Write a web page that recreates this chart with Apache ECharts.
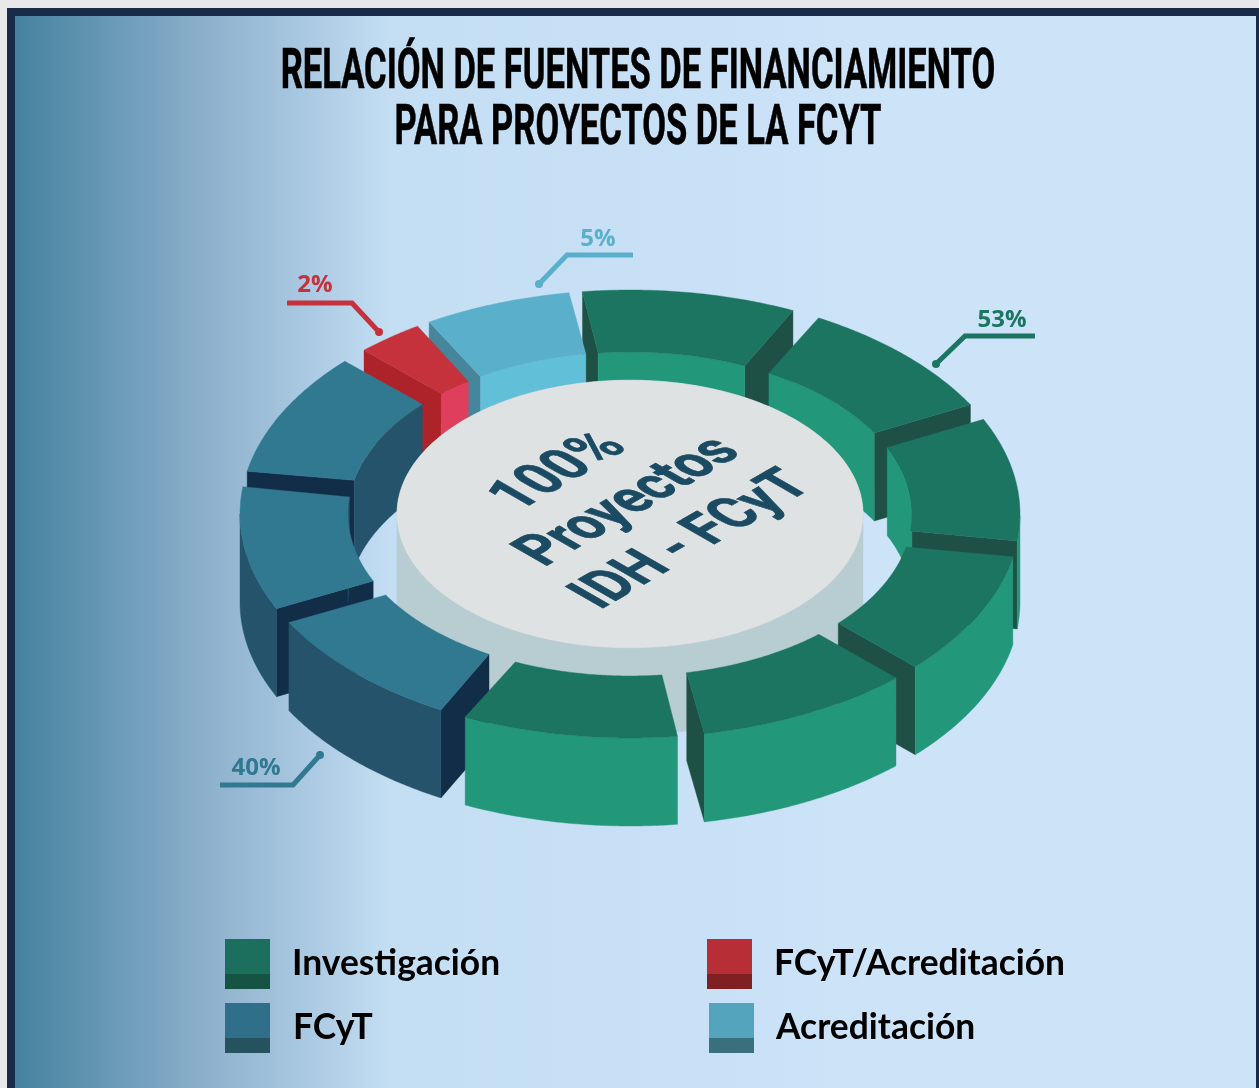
<!DOCTYPE html>
<html>
<head>
<meta charset="utf-8">
<style>html,body{margin:0;padding:0;background:#e8e8e8}#c{width:1259px;height:1088px}</style>
<script src="https://cdn.jsdelivr.net/npm/echarts@6/dist/echarts.min.js"></script>
</head>
<body>
<div id="c"></div>
<script>
// ---- data ----
const categories = ['Investigación', 'FCyT', 'FCyT/Acreditación', 'Acreditación'];
const shares = [53, 40, 2, 5];
// drawn angular extent of each block, degrees clockwise from the top:
// [outer edge start, outer edge end, inner edge start, inner edge end]
const investigacionBlocks = [
  [-7, 24.7, -6.5, 24], [28.9, 60.8, 29.5, 60], [65, 96.9, 65.8, 96],
  [101, 133, 101.8, 132.4], [137, 169, 138, 168.4], [173, 205, 173.5, 204]
];
const fcytBlocks = [[209, 241, 210, 240], [245, 277, 245.6, 276], [281, 313, 282, 312.6]];
const fcytAcreditacionBlocks = [[317, 327, 318, 325]];
const acreditacionBlocks = [[329, 351, 328, 351]];
const titleLines = ['RELACIÓN DE FUENTES DE FINANCIAMIENTO', 'PARA PROYECTOS DE LA FCYT'];
const hubLines = ['100%', 'Proyectos', 'IDH - FCyT'];

// ---- layout / style ----
const CX = 630, CY = 514, SQUASH = 224 / 390;
const R_OUT = 390, R_IN = 282, R_HUB = 233, H_RING = 88, H_HUB = 87;
const palettes = [
  { top: '#1B7561', outer: '#239779', inner: '#239779', end: '#1E5045', swatch: '#1B6F5C', base: '#155443' },
  { top: '#317891', outer: '#24536B', inner: '#24536B', end: '#122D47', swatch: '#2F6F89', base: '#24525F' },
  { top: '#C6323C', outer: '#AD2329', inner: '#DF3F5D', end: '#AD2329', swatch: '#B72E36', base: '#7F2022' },
  { top: '#5AB0CA', outer: '#47869A', inner: '#62BFD8', end: '#47869A', swatch: '#55A4BD', base: '#3A6F7E' }
];
const blocks = [investigacionBlocks, fcytBlocks, fcytAcreditacionBlocks, acreditacionBlocks];
const rad = d => d * Math.PI / 180;

function pt(api, r, a, h) {
  const p = api.coord([r, a]);
  return [p[0], CY + (p[1] - CY) * SQUASH + (h || 0)];
}
function samples(s, e) {
  const out = [];
  for (let a = s; a < e; a += 0.5) out.push(a);
  out.push(e);
  return out;
}
function poly(points, fill, z2) {
  return { type: 'polygon', z2: z2, shape: { points: points }, style: { fill: fill, stroke: fill, lineWidth: 0.4 } };
}
function wall(api, r, angles, fill, z2) {
  if (angles.length < 2) return null;
  const a = angles.map(x => pt(api, r, x, 0));
  const b = angles.slice().reverse().map(x => pt(api, r, x, H_RING));
  return poly(a.concat(b), fill, z2);
}
function endFace(api, aOut, aIn, fill, z2) {
  return poly([pt(api, R_IN, aIn, 0), pt(api, R_OUT, aOut, 0), pt(api, R_OUT, aOut, H_RING), pt(api, R_IN, aIn, H_RING)], fill, z2);
}
function blockRenderer(cat) {
  const pal = palettes[cat];
  return function (params, api) {
    const s = api.value(0), e = api.value(1), si = api.value(2), ei = api.value(3), mid = (s + e) / 2;
    const rank = Math.round((1 - Math.cos(rad(mid))) * 100) * 10;
    const outerAngles = samples(s, e), innerAngles = samples(si, ei);
    const kids = [];
    if (Math.sin(rad(e)) > 0) kids.push(endFace(api, e, ei, pal.end, rank));
    if (Math.sin(rad(s)) < 0) kids.push(endFace(api, s, si, pal.end, rank));
    kids.push(wall(api, R_IN, innerAngles.filter(a => Math.cos(rad(a)) > 0), pal.inner, rank + 1));
    kids.push(wall(api, R_OUT, outerAngles.filter(a => Math.cos(rad(a)) < 0), pal.outer, rank + 1));
    const top = outerAngles.map(a => pt(api, R_OUT, a, 0))
      .concat(innerAngles.slice().reverse().map(a => pt(api, R_IN, a, 0)));
    kids.push(poly(top, pal.top, rank + 2));
    return { type: 'group', children: kids.filter(Boolean) };
  };
}
function renderHub(params, api) {
  const z = Math.round((1 - 0.3) * 100) * 10;
  const side = [];
  for (let a = -90; a <= 90; a += 1) side.push(pt(api, R_HUB, a, 0));
  for (let a = 90; a <= 270; a += 1) side.push(pt(api, R_HUB, a, H_HUB));
  const cap = [];
  for (let a = 0; a < 360; a += 1) cap.push(pt(api, R_HUB, a, 0));
  return { type: 'group', children: [poly(side, '#B8CDD1', z), poly(cap, '#DEE2E3', z + 1)] };
}
// leader layout by category: dot, elbow, tail end, text centre
const leaders = [
  { d: [936, 364], k: [965, 336], t: [1035, 336], l: [1002, 320] },
  { d: [320, 755], k: [293, 785], t: [220, 785], l: [256, 768] },
  { d: [379, 332], k: [352, 303], t: [287, 303], l: [315, 285] },
  { d: [539, 284], k: [567, 255], t: [633, 255], l: [598, 239] }
];
function renderLeader(params, api) {
  const i = params.dataIndex, g = leaders[i], col = palettes[i].top;
  return {
    type: 'group',
    children: [
      { type: 'polyline', z2: 5000, shape: { points: [g.d, g.k, g.t] }, style: { stroke: col, lineWidth: 5, fill: null } },
      { type: 'circle', z2: 5000, shape: { cx: g.d[0], cy: g.d[1], r: 4 }, style: { fill: col } },
      { type: 'text', z2: 5000, x: g.l[0], y: g.l[1], style: { text: api.value(0) + '%', fill: col, font: 'bold 24px "Open Sans"', align: 'center', verticalAlign: 'middle' } }
    ]
  };
}

const series = categories.map((name, i) => ({
  name: name,
  type: 'custom',
  coordinateSystem: 'polar',
  silent: true,
  itemStyle: { color: palettes[i].top },
  data: blocks[i],
  renderItem: blockRenderer(i)
}));
series.push({ name: 'Proyectos', type: 'custom', coordinateSystem: 'polar', silent: true, data: [[0, 360]], renderItem: renderHub });
series.push({ name: 'Porcentajes', type: 'custom', coordinateSystem: 'polar', silent: true, data: shares.map(v => [v, 0]), renderItem: renderLeader });

const legendSlots = [
  { x: 225, y: 939, gap: 17, lift: 0 }, { x: 225, y: 1003, gap: 18, lift: 2 },
  { x: 707, y: 939, gap: 17, lift: 0 }, { x: 709, y: 1003, gap: 17, lift: 2 }
];
const legend = categories.map((name, i) => ({
  data: [name],
  left: legendSlots[i].x,
  top: legendSlots[i].y,
  orient: 'horizontal',
  padding: 0,
  selectedMode: false,
  icon: 'rect',
  itemWidth: 45,
  itemHeight: 50,
  itemStyle: { color: palettes[i].swatch },
  textStyle: { fontFamily: 'Lato', fontWeight: 'bold', fontSize: 35.4, color: '#000', padding: [0, 0, legendSlots[i].lift, legendSlots[i].gap] }
}));

const swatchShades = legendSlots.map((p, i) => ({
  type: 'rect', z: 20, shape: { x: p.x, y: p.y + 35, width: 45, height: 15 }, style: { fill: palettes[i].base }
}));

const titleText = titleLines.map((t, i) => ({
  type: 'text', z: 10, x: 638, y: i === 0 ? 74 : 130, scaleX: 0.616,
  style: { text: t, fill: '#000', stroke: '#000', lineWidth: 0.6, font: 'bold 56px Roboto', align: 'center', verticalAlign: 'middle' }
}));

const hubText = {
  type: 'group', z: 10, x: CX, y: CY, scaleY: SQUASH,
  children: [{
    type: 'group', rotation: Math.PI / 4,
    children: hubLines.map((t, i) => ({
      type: 'text', z: 10, x: [2, 14, 12][i], y: [-101, -14, 78][i], scaleX: i === 0 ? 0.85 : 0.83,
      style: { text: t, fill: '#1B4A63', stroke: '#1B4A63', lineWidth: 1, font: 'bold 75px Roboto', align: 'center', verticalAlign: 'middle' }
    }))
  }]
};

const chart = echarts.init(document.getElementById('c'), null, { renderer: 'canvas' });
chart.setOption({
  animation: false,
  backgroundColor: '#E8E8E8',
  polar: { center: [CX, CY], radius: R_OUT },
  radiusAxis: { min: 0, max: R_OUT, show: false },
  angleAxis: { type: 'value', min: 0, max: 360, startAngle: 90, clockwise: true, show: false },
  legend: legend,
  graphic: [
    { type: 'rect', z: -2, shape: { x: 7, y: 8, width: 1252, height: 1080 }, style: { fill: '#1A2B4A' } },
    {
      type: 'rect', z: -1, shape: { x: 15, y: 16, width: 1241, height: 1072 },
      style: {
        fill: {
          type: 'linear', x: 0, y: 0, x2: 1, y2: 0,
          colorStops: [
            { offset: 0, color: '#45829F' },
            { offset: 0.08, color: '#6A9AB7' },
            { offset: 0.16, color: '#8FB2CD' },
            { offset: 0.24, color: '#ACCAE3' },
            { offset: 0.30, color: '#C3DEF3' },
            { offset: 0.5, color: '#C8E0F6' },
            { offset: 0.7, color: '#CCE3F8' },
            { offset: 1, color: '#CCE3F8' }
          ]
        }
      }
    }
  ].concat(titleText, [hubText], swatchShades),
  series: series
});
</script>
</body>
</html>
